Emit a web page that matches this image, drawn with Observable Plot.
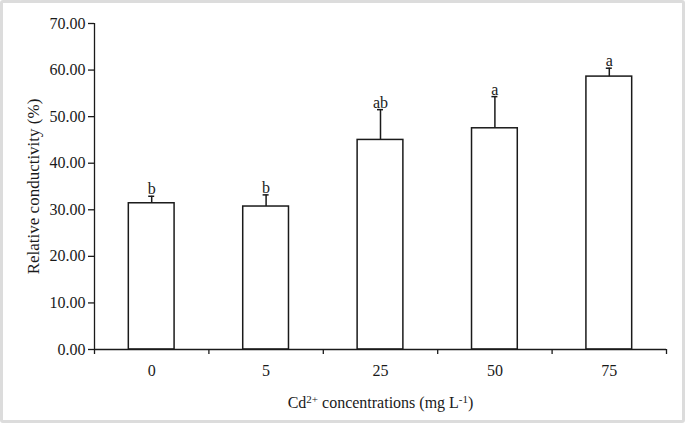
<!DOCTYPE html>
<html>
<head>
<meta charset="utf-8">
<script src="https://cdn.jsdelivr.net/npm/d3@7"></script>
<script src="https://cdn.jsdelivr.net/npm/@observablehq/plot@0.6"></script>
<style>
  html, body { margin: 0; padding: 0; background: #fff; }
  #wrap { position: relative; width: 685px; height: 423px; }
  #border { position: absolute; left: 0; top: 0; width: 685px; height: 423px; box-sizing: border-box;
            border: 3px solid #dcdcdc; border-radius: 3px; pointer-events: none; }
</style>
</head>
<body>
<div id="wrap"><div id="chart"></div><div id="border"></div></div>
<script>
const categories = ["0", "5", "25", "50", "75"];
const values = [31.4, 30.7, 45.0, 47.5, 58.6];
const errors = [1.5, 2.5, 6.5, 6.8, 1.8];
const letters = ["b", "b", "ab", "a", "a"];
const yTicks = [0, 10, 20, 30, 40, 50, 60, 70];
const yLabel = "Relative conductivity (%)";
const xLabel = "Cd2+ concentrations (mg L-1)";

const data = categories.map((c, i) => ({i, c, v: values[i], e: errors[i], l: letters[i]}));
const boundaries = d3.range(categories.length + 1);
const centers = categories.map((c, i) => i + 0.5);
const ink = "#1a1a1a";
const fs = 16;

const chart = Plot.plot({
  width: 685,
  height: 423,
  marginLeft: 94,
  marginRight: 19,
  marginTop: 23,
  marginBottom: 74,
  style: {fontFamily: "'Liberation Serif', 'Times New Roman', serif", fontSize: fs + "px", color: ink, background: "transparent"},
  x: {type: "linear", domain: [0, categories.length]},
  y: {domain: [0, 70]},
  marks: [
    Plot.rect(data, {x1: d => d.i + 0.3, x2: d => d.i + 0.7, y1: 0, y2: "v", fill: "white", stroke: ink, strokeWidth: 1.5}),
    Plot.ruleX(data, {x: d => d.i + 0.5, y1: "v", y2: d => d.v + d.e, stroke: ink, strokeWidth: 1.5}),
    Plot.ruleY(data, {x1: d => d.i + 0.5, x2: d => d.i + 0.5, y: d => d.v + d.e, insetLeft: -3, insetRight: -3, stroke: ink, strokeWidth: 1.5}),
    Plot.text(data, {x: d => d.i + 0.5, y: d => d.v + d.e, text: "l", lineAnchor: "bottom", dy: -2, fontSize: fs, fill: ink}),
    Plot.ruleY([0], {stroke: ink, strokeWidth: 1.3}),
    Plot.ruleX([0], {stroke: ink, strokeWidth: 1.3}),
    Plot.axisY({ticks: yTicks, tickFormat: d3.format(".2f"), tickSize: 6, tickPadding: 3, strokeWidth: 1.3, fontSize: fs, label: null}),
    Plot.text([yLabel], {frameAnchor: "left", textAnchor: "middle", rotate: -90, dx: -61, text: d => d, fontSize: 17, fill: ink}),
    Plot.axisX({ticks: boundaries, tickFormat: () => "", tickSize: 5, strokeWidth: 1.3, label: null}),
    Plot.axisX({ticks: centers, tickFormat: v => categories[Math.floor(v)], tickSize: 0, tickPadding: 15, fontSize: fs, label: null}),
    Plot.text([xLabel], {frameAnchor: "bottom", dy: 58, text: d => d, fontSize: fs, fill: ink})
  ]
});

document.getElementById("chart").appendChild(chart);

// Rich text for superscripts in the x-axis title
const ns = "http://www.w3.org/2000/svg";
chart.querySelectorAll("text").forEach(t => {
  if (t.textContent === xLabel) {
    t.textContent = "";
    const parts = [["Cd", false], ["2+", true], [" concentrations (mg L", false], ["-1", true], [")", false]];
    let up = false;
    parts.forEach(([s, sup]) => {
      const ts = document.createElementNS(ns, "tspan");
      ts.textContent = s;
      if (sup && !up) { ts.setAttribute("dy", "-5"); ts.setAttribute("font-size", "11"); up = true; }
      else if (sup) { ts.setAttribute("font-size", "11"); }
      else if (!sup && up) { ts.setAttribute("dy", "5"); up = false; }
      t.appendChild(ts);
    });
  }
});
</script>
</body>
</html>
